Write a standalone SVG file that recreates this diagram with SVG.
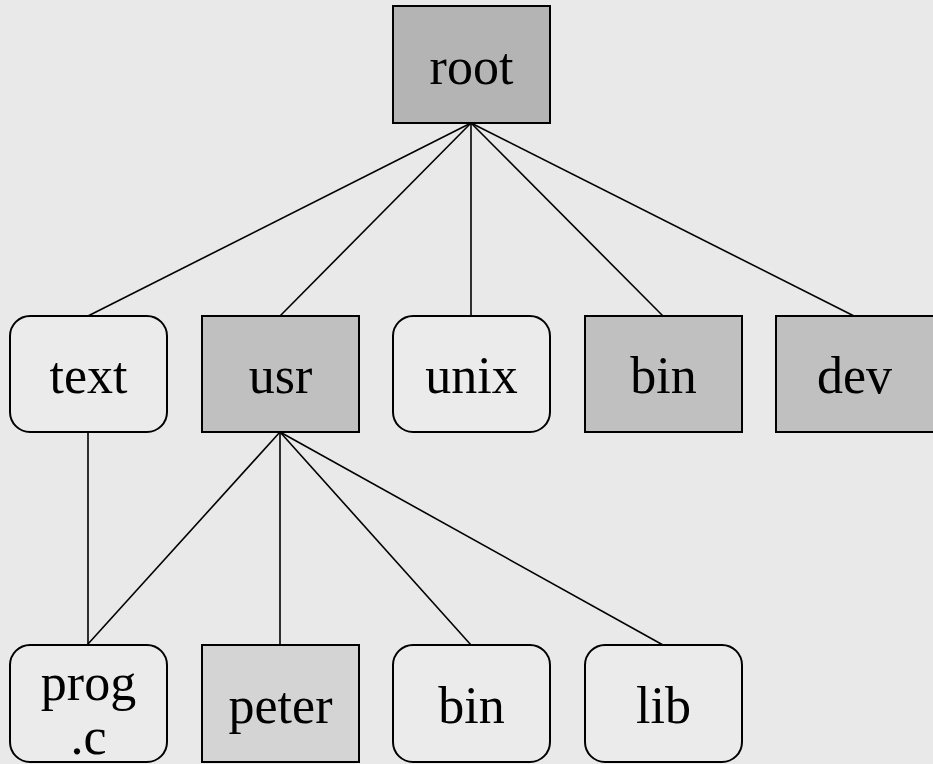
<svg xmlns="http://www.w3.org/2000/svg" width="933" height="764" viewBox="0 0 933 764">
  <style>
    .box { stroke: #000; stroke-width: 2; }
    .dir { fill: #c0c0c0; }
    .top { fill: #b4b4b4; }
    .home { fill: #d4d4d4; }
    .file { fill: #ebebeb; }
    .lbl { font-family: "Liberation Serif", "Times New Roman", serif; font-size: 52px; fill: #000; text-anchor: middle; }
    .edge { stroke: #000; stroke-width: 1.6; fill: none; }
  </style>
  <rect width="933" height="764" fill="#e9e9e9"/>

  <g id="connectors">
    <line class="edge" x1="471" y1="123" x2="88" y2="316"/>
    <line class="edge" x1="471" y1="123" x2="280" y2="316"/>
    <line class="edge" x1="471" y1="123" x2="471" y2="316"/>
    <line class="edge" x1="471" y1="123" x2="663" y2="316"/>
    <line class="edge" x1="471" y1="123" x2="854" y2="316"/>
    <line class="edge" x1="88" y1="432" x2="88" y2="644"/>
    <line class="edge" x1="280" y1="432" x2="88" y2="644"/>
    <line class="edge" x1="280" y1="432" x2="280" y2="645"/>
    <line class="edge" x1="280" y1="432" x2="471" y2="645"/>
    <line class="edge" x1="280" y1="432" x2="663" y2="645"/>
  </g>

  <g id="root">
    <rect class="box top" x="393" y="6" width="157" height="117"/>
    <text class="lbl" x="471.5" y="84">root</text>
  </g>

  <g id="text">
    <rect class="box file" x="10" y="316" width="157" height="116" rx="20"/>
    <text class="lbl" x="88.5" y="393">text</text>
  </g>
  <g id="usr">
    <rect class="box dir" x="202" y="316" width="157" height="116"/>
    <text class="lbl" x="280.5" y="393">usr</text>
  </g>
  <g id="unix">
    <rect class="box file" x="393" y="316" width="157" height="116" rx="20"/>
    <text class="lbl" x="471.5" y="393">unix</text>
  </g>
  <g id="bin">
    <rect class="box dir" x="585" y="316" width="157" height="116"/>
    <text class="lbl" x="663.5" y="393">bin</text>
  </g>
  <g id="dev">
    <rect class="box dir" x="776" y="316" width="160" height="116"/>
    <text class="lbl" x="854.5" y="393">dev</text>
  </g>

  <g id="prog-c">
    <rect class="box file" x="10" y="645" width="157" height="117" rx="20"/>
    <text class="lbl" x="88.5" y="700">prog</text>
    <text class="lbl" x="88.5" y="754">.c</text>
  </g>
  <g id="peter">
    <rect class="box home" x="202" y="645" width="157" height="117"/>
    <text class="lbl" x="280.5" y="723">peter</text>
  </g>
  <g id="usr-bin">
    <rect class="box file" x="393" y="645" width="157" height="117" rx="20"/>
    <text class="lbl" x="471.5" y="723">bin</text>
  </g>
  <g id="lib">
    <rect class="box file" x="585" y="645" width="157" height="117" rx="20"/>
    <text class="lbl" x="663.5" y="723">lib</text>
  </g>
</svg>
